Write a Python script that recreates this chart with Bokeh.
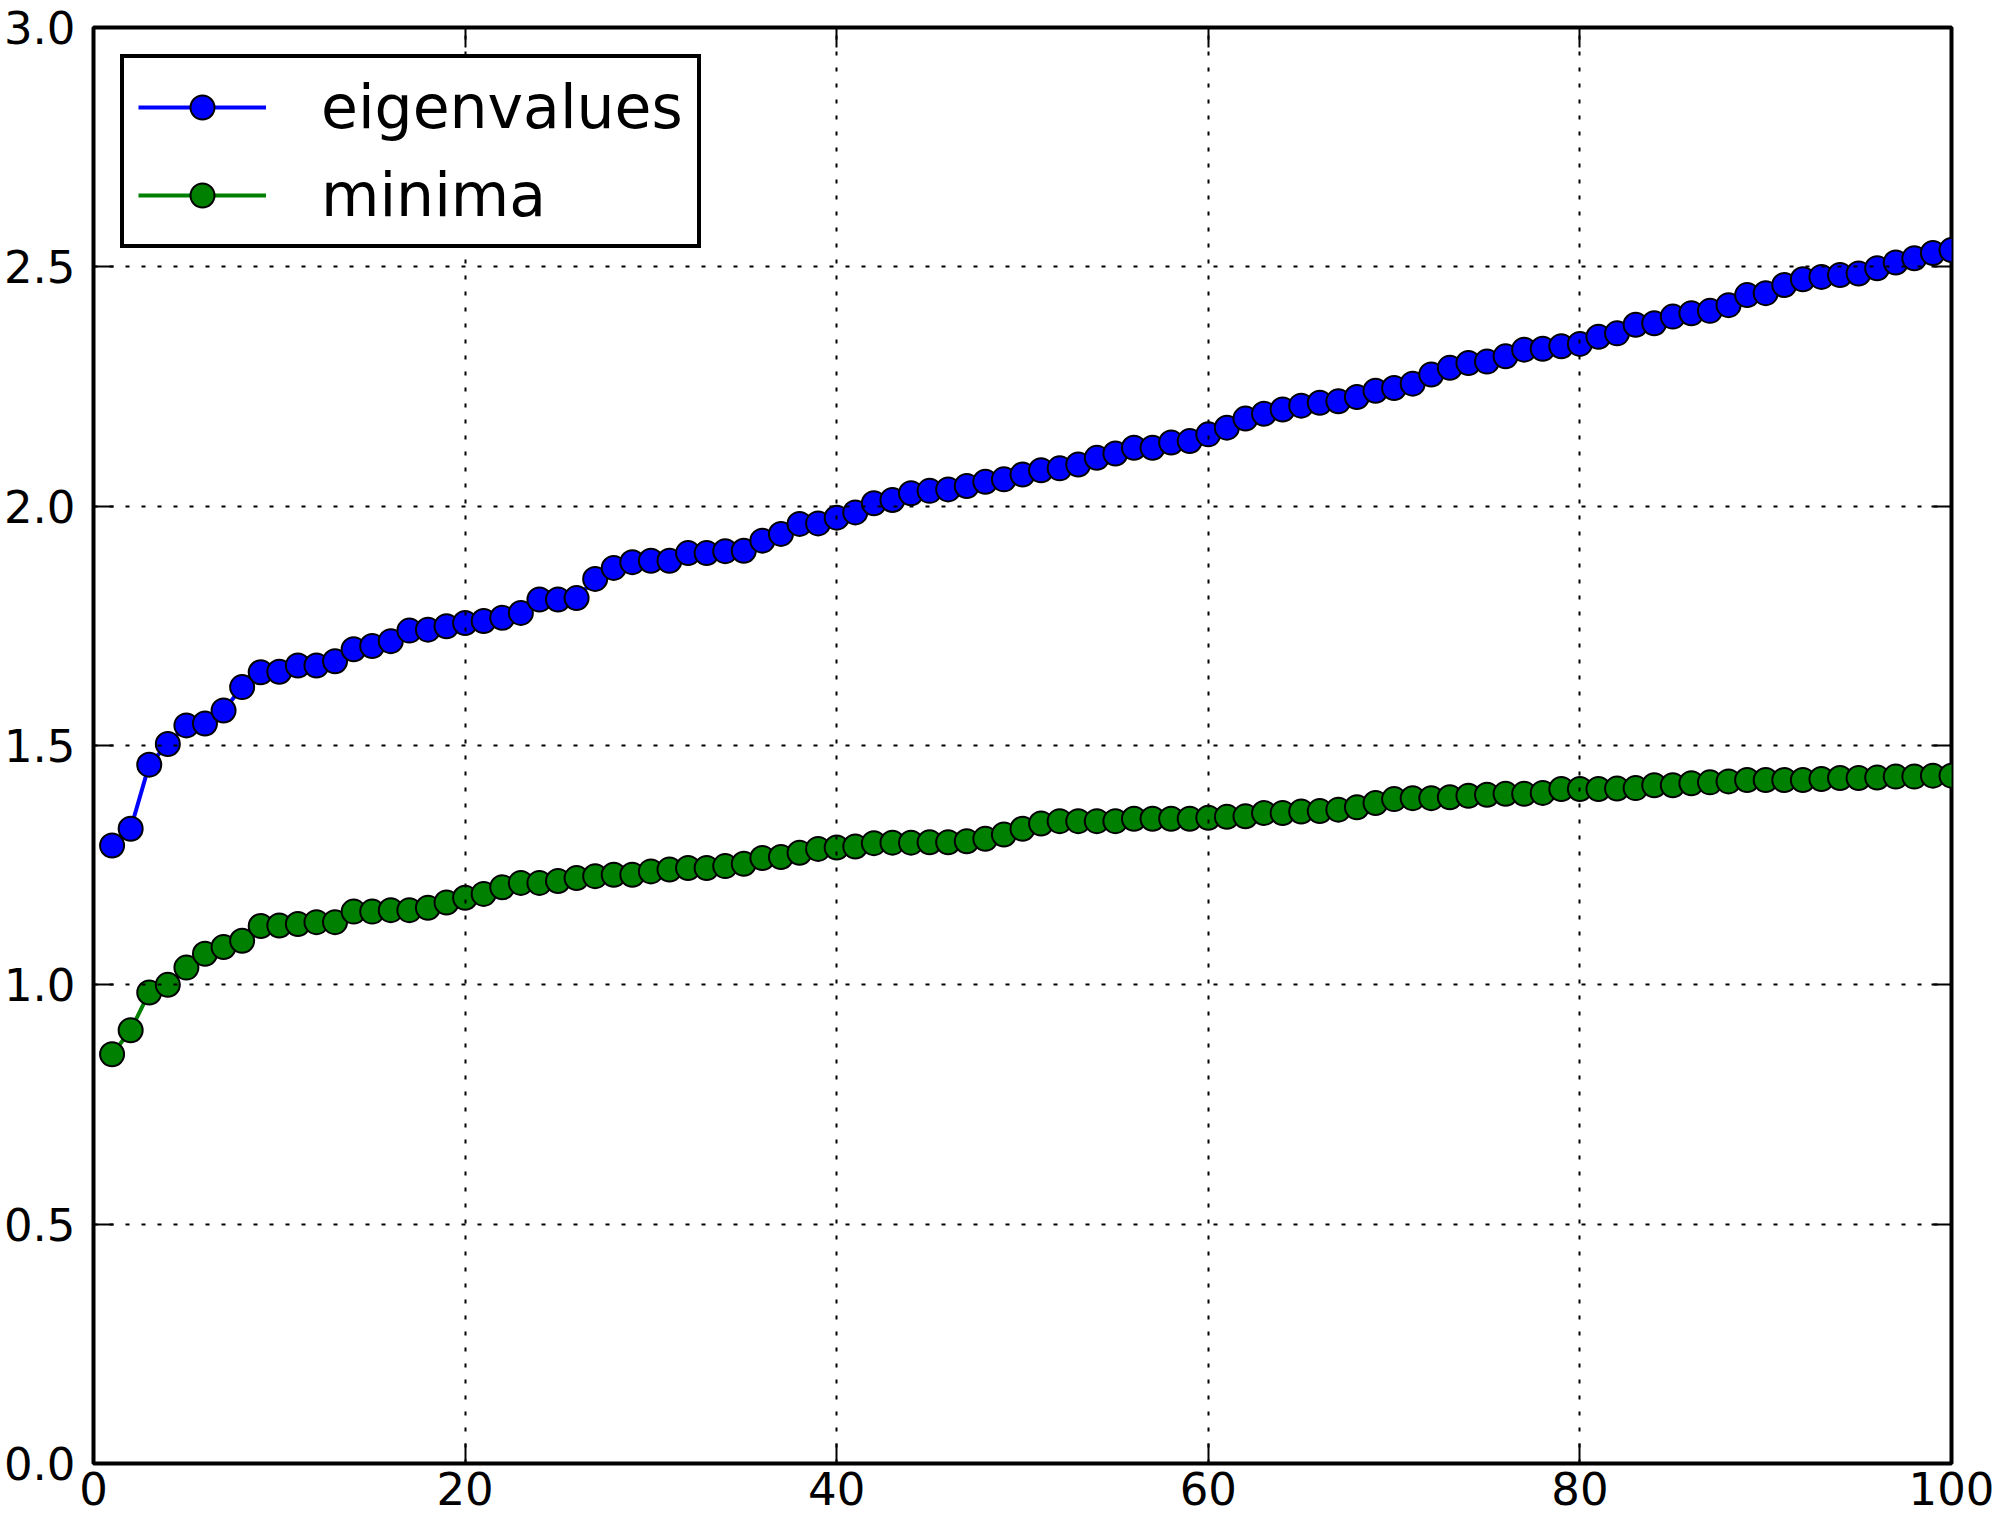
from bokeh.plotting import figure
from bokeh.models import (Range1d, FixedTicker, PrintfTickFormatter, LinearAxis,
                          CustomJSTickFormatter, Legend, LegendItem, Grid)
from bokeh.embed import file_html
from bokeh.resources import INLINE

# ---- data -------------------------------------------------------------
index = list(range(1, 101))

eigenvalues = [
    1.291, 1.326, 1.460, 1.503, 1.542, 1.546, 1.573, 1.622, 1.653, 1.654,
    1.667, 1.667, 1.676, 1.701, 1.708, 1.718, 1.740, 1.742, 1.749, 1.756,
    1.760, 1.767, 1.777, 1.805, 1.805, 1.808, 1.848, 1.871, 1.883, 1.886,
    1.886, 1.902, 1.902, 1.906, 1.907, 1.928, 1.942, 1.963, 1.964, 1.976,
    1.987, 2.006, 2.013, 2.027, 2.032, 2.035, 2.042, 2.051, 2.056, 2.066,
    2.075, 2.079, 2.087, 2.101, 2.110, 2.122, 2.122, 2.133, 2.136, 2.150,
    2.164, 2.183, 2.193, 2.202, 2.210, 2.216, 2.219, 2.228, 2.241, 2.247,
    2.256, 2.275, 2.289, 2.299, 2.302, 2.313, 2.327, 2.329, 2.334, 2.339,
    2.354, 2.361, 2.379, 2.382, 2.396, 2.403, 2.408, 2.420, 2.441, 2.445,
    2.462, 2.474, 2.479, 2.483, 2.486, 2.497, 2.509, 2.518, 2.529, 2.535,
]

minima = [
    0.855, 0.905, 0.984, 1.000, 1.036, 1.065, 1.079, 1.092, 1.123, 1.124,
    1.127, 1.131, 1.131, 1.153, 1.153, 1.156, 1.156, 1.161, 1.172, 1.182,
    1.190, 1.204, 1.213, 1.213, 1.217, 1.223, 1.227, 1.230, 1.230, 1.237,
    1.241, 1.244, 1.244, 1.248, 1.253, 1.265, 1.267, 1.276, 1.284, 1.287,
    1.289, 1.296, 1.297, 1.297, 1.298, 1.298, 1.300, 1.305, 1.314, 1.326,
    1.337, 1.342, 1.342, 1.342, 1.342, 1.347, 1.347, 1.347, 1.347, 1.349,
    1.351, 1.352, 1.359, 1.359, 1.362, 1.363, 1.366, 1.371, 1.380, 1.388,
    1.390, 1.390, 1.392, 1.395, 1.397, 1.399, 1.399, 1.401, 1.409, 1.409,
    1.409, 1.410, 1.411, 1.417, 1.417, 1.421, 1.423, 1.425, 1.428, 1.428,
    1.428, 1.428, 1.430, 1.432, 1.432, 1.433, 1.435, 1.435, 1.437, 1.437,
]

series_labels = ["eigenvalues", "minima"]
x_ticks = [0, 20, 40, 60, 80, 100]
y_ticks = [0.0, 0.5, 1.0, 1.5, 2.0, 2.5, 3.0]

BLUE = "#0000ff"
GREEN = "#008000"
FONT = "DejaVu Sans"

# ---- figure -----------------------------------------------------------
p = figure(width=1997, height=1518, output_backend="svg", toolbar_location=None,
           x_range=Range1d(0, 100), y_range=Range1d(0, 3),
           x_axis_type=None, y_axis_type=None,
           min_border_left=93, min_border_right=46,
           min_border_top=27, min_border_bottom=55)
p.background_fill_color = "white"
p.border_fill_color = "white"
p.outline_line_color = "black"
p.outline_line_width = 4
p.outline_line_alpha = 1.0

xt = FixedTicker(ticks=x_ticks)
yt = FixedTicker(ticks=y_ticks)


def style_axis(ax):
    ax.axis_line_color = None
    ax.major_tick_in = 20
    ax.major_tick_out = 0
    ax.major_tick_line_color = "black"
    ax.major_tick_line_width = 2
    ax.minor_tick_line_color = None
    ax.major_label_text_font = FONT
    ax.major_label_text_font_size = "45px"
    ax.major_label_text_color = "black"


bottom = LinearAxis(ticker=xt, formatter=PrintfTickFormatter(format="%d"))
style_axis(bottom)
bottom.major_label_standoff = 8
left = LinearAxis(ticker=yt, formatter=PrintfTickFormatter(format="%.1f"))
style_axis(left)
left.major_label_standoff = 18
top = LinearAxis(ticker=xt, formatter=CustomJSTickFormatter(code="return ''"))
style_axis(top)
top.major_label_standoff = 0
right = LinearAxis(ticker=yt, formatter=CustomJSTickFormatter(code="return ''"))
style_axis(right)
right.major_label_standoff = 0

p.add_layout(bottom, "below")
p.add_layout(left, "left")
p.add_layout(top, "above")
p.add_layout(right, "right")

for dim, tk in ((0, xt), (1, yt)):
    g = Grid(dimension=dim, ticker=tk, grid_line_color="black",
             grid_line_width=2, grid_line_dash="4 12", level="guide")
    p.add_layout(g)

# ---- series -----------------------------------------------------------
r1l = p.line(index, eigenvalues, line_color=BLUE, line_width=4)
r1s = p.scatter(index, eigenvalues, size=24, fill_color=BLUE,
                line_color="black", line_width=2)
r2l = p.line(index, minima, line_color=GREEN, line_width=4)
r2s = p.scatter(index, minima, size=24, fill_color=GREEN,
                line_color="black", line_width=2)

legend = Legend(
    items=[LegendItem(label=series_labels[0], renderers=[r1l, r1s]),
           LegendItem(label=series_labels[1], renderers=[r2l, r2s])],
    location="top_left", margin=27, padding=14, spacing=18,
    glyph_width=128, glyph_height=60, label_standoff=55,
    label_text_font=FONT, label_text_font_size="60px",
    label_text_color="black",
    border_line_color="black", border_line_width=4, border_line_alpha=1.0,
    background_fill_color="white", background_fill_alpha=1.0,
)
p.add_layout(legend)

open("out.html", "w").write(file_html(p, INLINE))
